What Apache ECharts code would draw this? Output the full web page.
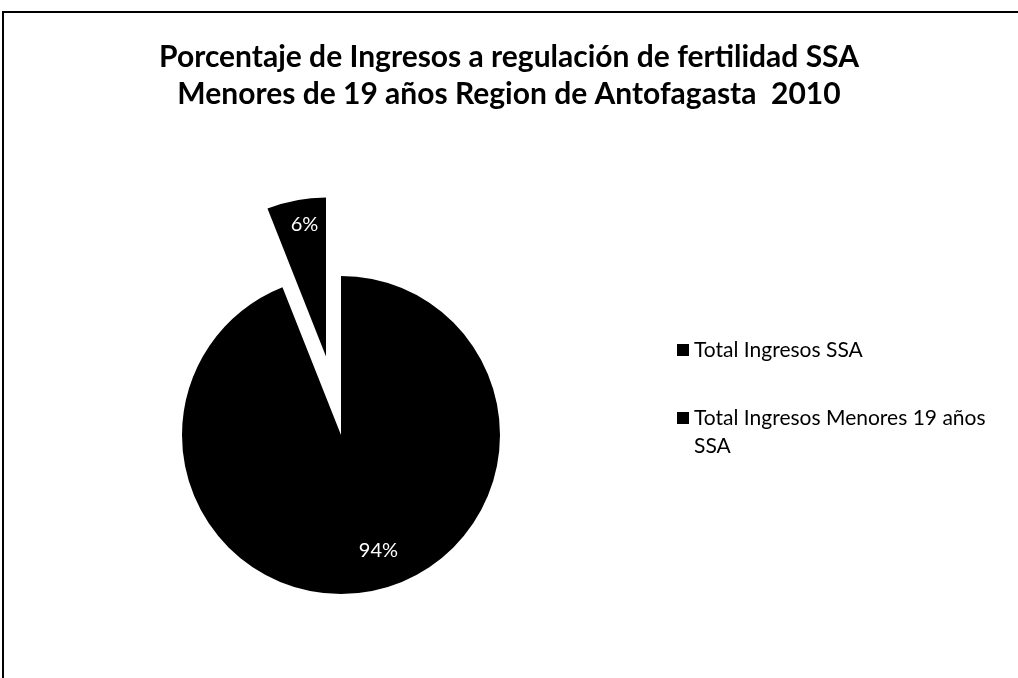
<!DOCTYPE html>
<html>
<head>
<meta charset="utf-8">
<script src="https://cdn.jsdelivr.net/npm/echarts@6/dist/echarts.min.js"></script>
<style>
  html, body { margin: 0; padding: 0; background: #fff; }
  #chart { width: 1018px; height: 678px; }
</style>
</head>
<body>
<div id="chart"></div>
<script>
  // datos
  const categories = ['Total Ingresos SSA', 'Total Ingresos Menores 19 años SSA']
  const percentages = [94, 6]
  const titleLines = [
    'Porcentaje de Ingresos a regulación de fertilidad SSA',
    'Menores de 19 años Region de Antofagasta  2010'
  ]

  const chart = echarts.init(document.getElementById('chart'))

  // posicion de las etiquetas (Excel "best fit")
  const labelOffsets = [[22, 35], [-6, -51]]

  const seriesData = categories.map((name, i) => ({
    name: name,
    value: percentages[i],
    selected: i === 1, // porción separada
    label: { offset: labelOffsets[i] },
    select: { label: { offset: labelOffsets[i] } }
  }))

  const option = {
    backgroundColor: '#fff',
    animation: false,
    title: {
      text: titleLines.join('\n'),
      left: 'center',
      top: 34,
      textStyle: {
        fontFamily: 'Lato',
        fontWeight: 'bold',
        fontSize: 30,
        lineHeight: 37,
        color: '#000'
      }
    },
    legend: {
      orient: 'vertical',
      left: 677,
      top: 336,
      padding: 0,
      itemGap: 12,
      itemWidth: 12,
      itemHeight: 12,
      icon: 'rect',
      selectedMode: false,
      // la segunda entrada ocupa dos lineas, con el cuadro alineado a la primera
      formatter: name => name === categories[1]
        ? '\nTotal Ingresos Menores 19 años\nSSA'
        : name,
      textStyle: {
        fontFamily: 'Lato',
        fontSize: 21,
        lineHeight: 28,
        color: '#000'
      }
    },
    graphic: [{
      type: 'polyline',
      shape: { points: [[3, 700], [3, 12], [1030, 12]] },
      style: { fill: 'none', stroke: '#000', lineWidth: 2 },
      silent: true
    }],
    series: [{
      type: 'pie',
      center: [341, 435],
      radius: 159,
      startAngle: 90,
      clockwise: true,
      selectedMode: 'single',
      selectedOffset: 80,
      avoidLabelOverlap: false,
      itemStyle: { color: '#000', borderWidth: 0 },
      select: { itemStyle: { color: '#000' } },
      emphasis: { disabled: true },
      label: {
        show: true,
        position: 'inside',
        formatter: '{c}%',
        color: '#fff',
        fontFamily: 'Lato',
        fontSize: 20
      },
      labelLine: { show: false },
      data: seriesData
    }]
  }

  chart.setOption(option)
</script>
</body>
</html>
